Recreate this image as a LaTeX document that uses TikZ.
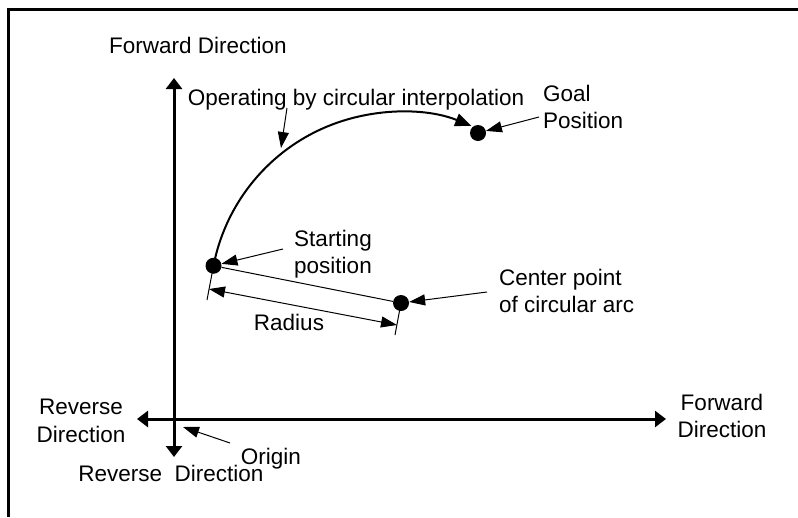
\documentclass[tikz,border=0pt]{standalone}
\usepackage{fontspec}
\setmainfont{Liberation Sans}
\usetikzlibrary{arrows.meta}
\begin{document}
\begin{tikzpicture}[x=1pt, y=-1pt,
    txt/.style={font=\fontsize{22.5}{27.5}\selectfont, align=center, inner sep=0pt},
    axis/.style={line width=3pt, {Triangle[length=11pt, width=16pt]}-{Triangle[length=11pt, width=16pt]}},
    pointer/.style={line width=1pt, -{Triangle[length=16pt, width=11pt]}},
    dimline/.style={line width=1pt, {Triangle[length=16pt, width=11pt]}-{Triangle[length=16pt, width=11pt]}},
    arcline/.style={line width=2pt, -{Triangle[length=16pt, width=13pt]}},
    thinline/.style={line width=1pt},
    dot/.style={circle, fill=black, minimum size=16pt, inner sep=0pt},
    frame/.style={line width=3pt}
]
\useasboundingbox (0,0) rectangle (798,517);

% frame, cut off at right and bottom
\draw[frame] (8.5,517) -- (8.5,9.5) -- (798,9.5);

% axes
\coordinate (ytop) at (174,78);
\coordinate (ybot) at (174,457);
\coordinate (xleft) at (137,419);
\coordinate (xright) at (666,419);
\draw[axis] (ybot) -- (ytop);
\draw[axis] (xleft) -- (xright);

\node[txt] (fwdy) at (198,45) {Forward Direction};
\node[txt] (revy) at (171,473) {Reverse\ \ Direction};
\node[txt] (revx) at (81,421) {Reverse\\Direction};
\node[txt] (fwdx) at (722,416) {Forward\\Direction};
\node[txt] (orig) at (271,459) {Origin};

% points
\node[dot] (start) at (213.5,265.75) {};
\node[dot] (center) at (401,303) {};
\node[dot] (goal) at (478,133) {};

% circular path
\draw[arcline] (start.center) arc[start angle=191, end angle=292, radius=190];
\draw[thinline] (start) -- (center);

% radius dimension
\coordinate (starttick) at (207,300);
\coordinate (centertick) at (395,335);
\draw[thinline] (start.center) -- (starttick);
\draw[thinline] (center.center) -- (centertick);
\coordinate (rad1) at (209,289);
\coordinate (rad2) at (397,325);
\draw[dimline] (rad1) -- (rad2);
\node[txt] (radlab) at (289,322) {Radius};

% labels with pointers
\node[txt] (oper) at (356,100) {Operating by circular interpolation};
\node[txt, align=left, anchor=west] (goallab) at (543,107) {Goal\\Position};
\node[txt] (startlab) at (333,254) {Starting\\position};
\node[txt, align=left, anchor=west] (centerlab) at (499,291) {Center point\\of circular arc};

\coordinate (operfrom) at (287,108);
\coordinate (operto) at (281,148);
\coordinate (goalfrom) at (539,117);
\coordinate (startfrom) at (283,249);
\coordinate (centerfrom) at (487,292);
\coordinate (origfrom) at (230,443);
\coordinate (origto) at (183,427);
\draw[pointer] (operfrom) -- (operto);
\draw[pointer] (goalfrom) -- (goal);
\draw[pointer] (startfrom) -- (start);
\draw[pointer] (centerfrom) -- (center);
\draw[pointer] (origfrom) -- (origto);

\end{tikzpicture}
\end{document}
